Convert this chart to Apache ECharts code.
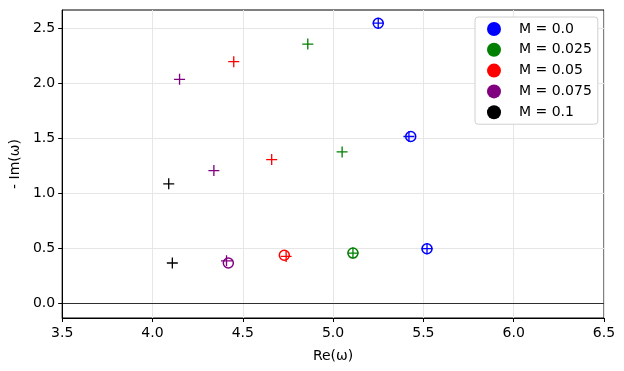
<!DOCTYPE html>
<html>
<head>
<meta charset="utf-8">
<script src="https://cdn.jsdelivr.net/npm/echarts@6/dist/echarts.min.js"></script>
<style>
  html, body { margin: 0; padding: 0; background: #fff; }
  #chart { width: 624px; height: 371px; }
</style>
</head>
<body>
<div id="chart"></div>
<script>
// legend names and colours
const massLabels = ['M = 0.0', 'M = 0.025', 'M = 0.05', 'M = 0.075', 'M = 0.1'];
const massColors = ['#0000ff', '#008000', '#ff0000', '#800080', '#000000'];

// hollow circles  [Re, -Im]
const circlesM0 = [[5.25, 2.55], [5.43, 1.52], [5.52, 0.50]];
const circlesM025 = [[5.11, 0.46]];
const circlesM05 = [[4.73, 0.44]];
const circlesM075 = [[4.42, 0.37]];
const circlesM1 = [];

// plus markers  [Re, -Im]
const plusM0 = [[5.25, 2.55], [5.42, 1.52], [5.52, 0.50]];
const plusM025 = [[4.86, 2.36], [5.05, 1.38], [5.11, 0.46]];
const plusM05 = [[4.45, 2.20], [4.66, 1.31], [4.74, 0.43]];
const plusM075 = [[4.15, 2.04], [4.34, 1.21], [4.41, 0.39]];
const plusM1 = [[4.09, 1.09], [4.11, 0.37]];

const circleSets = [circlesM0, circlesM025, circlesM05, circlesM075, circlesM1];
const plusSets = [plusM0, plusM025, plusM05, plusM075, plusM1];

const yTicks = [0.0, 0.5, 1.0, 1.5, 2.0, 2.5];

const plusPath = 'path://M4.4,0H5.6V4.4H10V5.6H5.6V10H4.4V5.6H0V4.4H4.4Z';
const font = 'DejaVu Sans';

const series = [];
massLabels.forEach((name, i) => {
    series.push({
        name: name,
        type: 'scatter',
        data: circleSets[i],
        symbol: 'circle',
        symbolSize: 10,
        itemStyle: { color: 'transparent', borderColor: massColors[i], borderWidth: 1.5, opacity: 1 },
        z: 3
    });
    series.push({
        name: name,
        type: 'scatter',
        data: plusSets[i],
        symbol: plusPath,
        symbolSize: 11,
        itemStyle: { color: massColors[i], opacity: 1 },
        z: 4
    });
});

// horizontal line at zero
series.push({
    name: 'zero',
    type: 'line',
    data: [],
    silent: true,
    markLine: {
        silent: true,
        symbol: 'none',
        label: { show: false },
        lineStyle: { color: '#000', width: 0.8, type: 'solid' },
        data: [{ yAxis: 0 }]
    }
});

const chart = echarts.init(document.getElementById('chart'));
chart.setOption({
    animation: false,
    backgroundColor: '#fff',
    textStyle: { fontFamily: font },
    grid: {
        left: 61, right: 20, top: 10, bottom: 53,
        show: true, borderColor: '#000', borderWidth: 1
    },
    legend: {
        orient: 'vertical',
        left: 475,
        top: 17,
        padding: [5, 6, 5, 12],
        itemWidth: 14,
        itemHeight: 14,
        itemGap: 6.8,
        backgroundColor: '#fff',
        borderColor: '#d0d0d0',
        borderWidth: 1,
        borderRadius: 3,
        textStyle: { fontFamily: font, fontSize: 14, color: '#000', padding: [0, 0, 0, 13] },
        data: massLabels.map((name, i) => ({
            name: name,
            icon: 'circle',
            itemStyle: { color: massColors[i], borderWidth: 0 }
        }))
    },
    xAxis: {
        type: 'value',
        min: 3.5,
        max: 6.5,
        interval: 0.5,
        name: 'Re(ω)',
        nameLocation: 'middle',
        nameGap: 31,
        nameTextStyle: { fontFamily: font, fontSize: 14, color: '#000' },
        axisLine: { show: true, onZero: false, lineStyle: { color: '#000', width: 1 } },
        axisTick: { show: true, length: 4, lineStyle: { color: '#000' } },
        axisLabel: {
            fontFamily: font, fontSize: 14, color: '#000', margin: 8,
            formatter: v => v.toFixed(1)
        },
        splitLine: { show: true, lineStyle: { color: '#e6e6e6', width: 1 } }
    },
    yAxis: {
        type: 'value',
        min: -0.13,
        max: 2.67,
        name: '- Im(ω)',
        nameLocation: 'middle',
        nameGap: 34,
        nameTextStyle: { fontFamily: font, fontSize: 14, color: '#000' },
        axisLine: { show: true, onZero: false, lineStyle: { color: '#000', width: 1 } },
        axisTick: { show: true, length: 4, customValues: yTicks, lineStyle: { color: '#000' } },
        axisLabel: {
            fontFamily: font, fontSize: 14, color: '#000', margin: 7,
            customValues: yTicks,
            formatter: v => v.toFixed(1)
        },
        splitLine: { show: true, lineStyle: { color: '#e6e6e6', width: 1 } }
    },
    series: series
});
</script>
</body>
</html>
